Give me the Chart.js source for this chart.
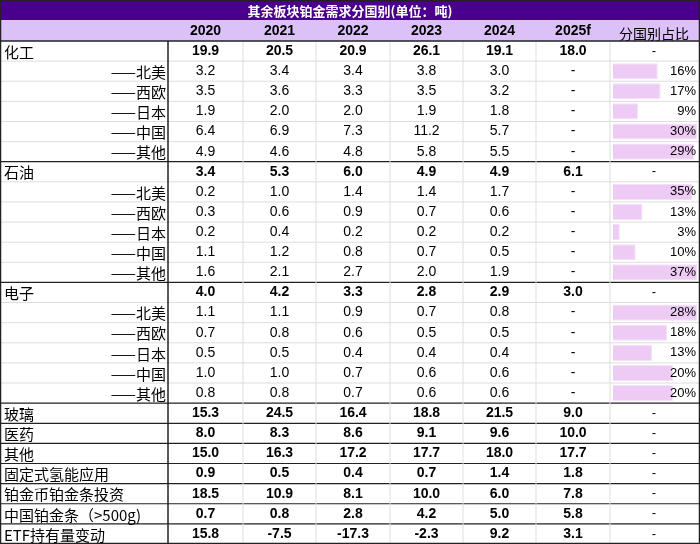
<!DOCTYPE html>
<html><head><meta charset="utf-8">
<script src="https://cdn.jsdelivr.net/npm/chart.js@4"></script>
<style>html,body{margin:0;background:#fff}#wrap{width:700px;height:544px}</style>
</head><body><div id="wrap"><canvas id="c"></canvas></div>
<script>
// DATA
const title = "其余板块铂金需求分国别(单位：吨)";
const years = ["2020","2021","2022","2023","2024","2025f"];
const shareHeader = "分国别占比";
const rowLabels = ["化工","——北美","——西欧","——日本","——中国","——其他",
  "石油","——北美","——西欧","——日本","——中国","——其他",
  "电子","——北美","——西欧","——日本","——中国","——其他",
  "玻璃","医药","其他","固定式氢能应用","铂金币铂金条投资","中国铂金条（>500g)","ETF持有量变动"];
const v2020 = ["19.9","3.2","3.5","1.9","6.4","4.9","3.4","0.2","0.3","0.2","1.1","1.6","4.0","1.1","0.7","0.5","1.0","0.8","15.3","8.0","15.0","0.9","18.5","0.7","15.8"];
const v2021 = ["20.5","3.4","3.6","2.0","6.9","4.6","5.3","1.0","0.6","0.4","1.2","2.1","4.2","1.1","0.8","0.5","1.0","0.8","24.5","8.3","16.3","0.5","10.9","0.8","-7.5"];
const v2022 = ["20.9","3.4","3.3","2.0","7.3","4.8","6.0","1.4","0.9","0.2","0.8","2.7","3.3","0.9","0.6","0.4","0.7","0.7","16.4","8.6","17.2","0.4","8.1","2.8","-17.3"];
const v2023 = ["26.1","3.8","3.5","1.9","11.2","5.8","4.9","1.4","0.7","0.2","0.7","2.0","2.8","0.7","0.5","0.4","0.6","0.6","18.8","9.1","17.7","0.7","10.0","4.2","-2.3"];
const v2024 = ["19.1","3.0","3.2","1.8","5.7","5.5","4.9","1.7","0.6","0.2","0.5","1.9","2.9","0.8","0.5","0.4","0.6","0.6","21.5","9.6","18.0","1.4","6.0","5.0","9.2"];
const v2025 = ["18.0","-","-","-","-","-","6.1","-","-","-","-","-","3.0","-","-","-","-","-","9.0","10.0","17.7","1.8","7.8","5.8","3.1"];
const share = [null,16,17,9,30,29,null,35,13,3,10,37,null,28,18,13,20,20,null,null,null,null,null,null,null];
const groupOf = [0,0,0,0,0,0,1,1,1,1,1,1,2,2,2,2,2,2,-1,-1,-1,-1,-1,-1,-1];

const groupMax = [0,1,2].map(g => Math.max(...share.filter((s,i)=>groupOf[i]===g && s!==null)));
const barVals = share.map((s,i)=> s===null ? null : s/groupMax[groupOf[i]]);

const colEdges = [0,168,243,316,390,463,536,610,698];
const latin = 'bold 14px "Liberation Sans", Arial, sans-serif';
const cjk = '"Noto Sans CJK SC", sans-serif';

const tablePlugin = {
  id: "table",
  beforeDatasetsDraw(chart) {
    const c = chart.ctx, y = chart.scales.y;
    const band = y.getPixelForValue(1) - y.getPixelForValue(0);
    c.save();
    c.fillStyle = "#4a008c"; c.fillRect(0,0,700,20);
    c.fillStyle = "#dcc0f8"; c.fillRect(0,20,700,21);
    c.fillStyle = "#fff"; c.font = "bold 13px " + cjk;
    c.textAlign = "center"; c.textBaseline = "middle";
    c.fillText(title, 350, 11);
    c.fillStyle = "#000"; c.font = latin;
    years.forEach((t,k)=> c.fillText(t, (colEdges[k+1]+colEdges[k+2])/2, 31));
    c.font = "14px " + cjk;
    c.fillText(shareHeader, 654, 34);
    // row lines
    rowLabels.forEach((lab,i)=>{
      const top = y.getPixelForValue(i) - band/2, bot = top + band;
      const isSub = lab.startsWith("——");
      const thick = i===5||i===11||i>=17;
      c.strokeStyle = thick ? "#222" : "#ddd"; c.lineWidth = thick ? 1.2 : 1;
      c.beginPath(); c.moveTo(0,bot); c.lineTo(700,bot); c.stroke();
    });
    c.strokeStyle = "#ddd"; c.lineWidth = 1;
    for (let k=2;k<colEdges.length-1;k++){ c.beginPath(); c.moveTo(colEdges[k],41); c.lineTo(colEdges[k],544); c.stroke(); }
    c.strokeStyle = "#222"; c.lineWidth = 1.5;
    c.beginPath(); c.moveTo(168,41); c.lineTo(168,544); c.stroke();
    c.beginPath(); c.moveTo(0,41); c.lineTo(700,41); c.stroke();
    c.strokeRect(0.5,0.5,699,543);
    c.restore();
  },
  afterDatasetsDraw(chart) {
    const c = chart.ctx, y = chart.scales.y;
    c.save(); c.fillStyle = "#000"; c.textBaseline = "middle";
    rowLabels.forEach((lab,i)=>{
      const cy = y.getPixelForValue(i);
      const isSub = lab.startsWith("——");
      c.font = "15px " + cjk;
      if (isSub) { c.textAlign = "right"; c.fillText(lab, 166, cy+1); }
      else { c.textAlign = "left"; c.fillText(lab, 4, cy+1); }
      c.textAlign = "center";
      c.font = (isSub ? "" : "bold ") + '14px "Liberation Sans", Arial, sans-serif';
      [v2020,v2021,v2022,v2023,v2024,v2025].forEach((arr,k)=>{
        c.fillText(arr[i], (colEdges[k+1]+colEdges[k+2])/2, cy);
      });
      c.font = '13px "Liberation Sans", Arial, sans-serif';
      if (share[i]===null) c.fillText("-", 654, cy);
      else { c.textAlign = "right"; c.fillText(share[i]+"%", 696, cy); }
    });
    c.restore();
  }
};

new Chart(document.getElementById("c"), {
  type: "bar",
  data: { labels: rowLabels, datasets: [{ data: barVals, backgroundColor: "#eecbf5", borderColor: "#f4e0f8", borderWidth: 1, barPercentage: 0.8, categoryPercentage: 1 }] },
  options: {
    indexAxis: "y", responsive: true, maintainAspectRatio: false, animation: false,
    layout: { padding: { left: 613, right: 3, top: 41, bottom: 0 } },
    plugins: { legend: { display: false }, tooltip: { enabled: false } },
    scales: {
      x: { display: false, min: 0, max: 1 },
      y: { display: false, offset: true, grid: { display: false } }
    }
  },
  plugins: [tablePlugin]
});
</script></body></html>
